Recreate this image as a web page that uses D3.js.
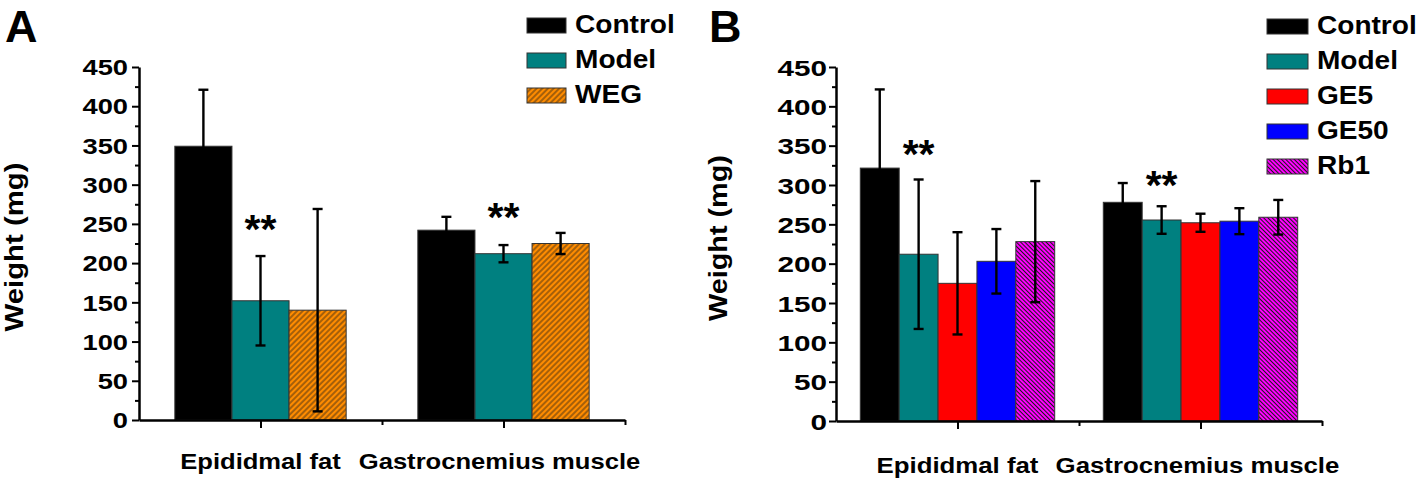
<!DOCTYPE html>
<html><head><meta charset="utf-8">
<script src="https://cdn.jsdelivr.net/npm/d3@7"></script>
<style>
body{margin:0;background:#fff}
text{font-family:"Liberation Sans",Arial,Helvetica,sans-serif;font-weight:bold;fill:#000}
</style>
</head><body>
<svg id="chart" width="1418" height="482"></svg>
<script>
// ---------------- data ----------------
const categories = ["Epididmal fat", "Gastrocnemius muscle"];
const yTicks = [0, 50, 100, 150, 200, 250, 300, 350, 400, 450];
const yMinorTicks = [25, 75, 125, 175, 225, 275, 325, 375, 425];

const seriesA = ["Control", "Model", "WEG"];
const meansA  = [[349, 242], [152, 212], [140, 225]];
const errorsA = [[72, 17], [57, 11], [129, 13.5]];
const starsA  = [{cat: 0, series: 1, y: 226}, {cat: 1, series: 1, y: 241}];

const seriesB = ["Control", "Model", "GE5", "GE50", "Rb1"];
const meansB  = [[321.5, 278], [212, 255.5], [175, 252], [203, 254], [228, 259]];
const errorsB = [[100, 24.5], [95, 17.5], [65, 11.5], [41, 16.5], [77, 22]];
const starsB  = [{cat: 0, series: 1, y: 321.5}, {cat: 1, series: 1, y: 282}];

const fillsA = ["#000000", "#008080", "url(#hatchOrange)"];
const fillsB = ["#000000", "#008080", "#FF0000", "#0000FF", "url(#hatchMagenta)"];

// ---------------- drawing ----------------
const svg = d3.select("#chart");
const defs = svg.append("defs");

function hatch(id, color, period, rot, sw) {
  const p = defs.append("pattern").attr("id", id)
    .attr("patternUnits", "userSpaceOnUse")
    .attr("width", period).attr("height", 10)
    .attr("patternTransform", `rotate(${rot})`);
  p.append("rect").attr("width", period).attr("height", 10).attr("fill", color);
  p.append("line").attr("x1", period / 2).attr("x2", period / 2)
    .attr("y1", 0).attr("y2", 10).attr("stroke", "#1a1a1a").attr("stroke-width", sw);
}
hatch("hatchOrange", "#FF8C00", 4.0, 45, 0.8);
hatch("hatchMagenta", "#FF00FF", 3.0, -45, 1.0);

function stretched(g, str, x, y, size, sx, anchor, rot) {
  return g.append("text").text(str)
    .attr("font-size", size)
    .attr("text-anchor", anchor || "start")
    .attr("transform", `translate(${x},${y}) rotate(${rot || 0}) scale(${sx},1)`);
}

function drawPanel(o) {
  const g = svg.append("g");
  const x = d3.scaleLinear().domain([0.5, 2.5]).range(o.xRange);
  const y = d3.scaleLinear().domain([0, 450]).range(o.yRange);
  const n = o.series.length;
  const w = o.barW;
  const left = (ci, si) => (ci + 1) - n * w / 2 + si * w;

  // bars
  o.series.forEach((s, si) => {
    const gs = g.append("g");
    gs.selectAll("rect").data(o.means[si]).join("rect")
      .attr("x", (d, ci) => x(left(ci, si)))
      .attr("width", x(left(0, si) + w) - x(left(0, si)))
      .attr("y", d => y(d))
      .attr("height", d => y(0) - y(d))
      .attr("fill", o.fills[si])
      .attr("stroke", "#333").attr("stroke-width", 1);
  });

  // error bars
  o.series.forEach((s, si) => {
    o.means[si].forEach((m, ci) => {
      const cx = x(left(ci, si) + w / 2);
      const e = o.errors[si][ci];
      const eb = g.append("g").attr("stroke", "#000").attr("stroke-width", 2.4);
      eb.append("line").attr("x1", cx).attr("x2", cx).attr("y1", y(m + e)).attr("y2", y(m - e));
      [m + e, m - e].forEach(v => {
        eb.append("line").attr("x1", cx - 5).attr("x2", cx + 5).attr("y1", y(v)).attr("y2", y(v));
      });
    });
  });

  // y axis
  const ya = g.append("g").attr("transform", `translate(${o.xRange[0]},0)`)
    .call(d3.axisLeft(y).tickValues(yTicks).tickSize(7).tickSizeOuter(0));
  ya.select(".domain").attr("stroke-width", 2.5);
  ya.selectAll(".tick line").attr("stroke-width", 2);
  ya.selectAll(".tick text")
    .attr("x", null).attr("dy", null)
    .attr("font-size", o.tickFont).attr("font-family", null)
    .attr("transform", `translate(${-o.tickGap},${o.tickBase}) scale(${o.tickSx},1)`);
  g.append("g").attr("transform", `translate(${o.xRange[0]},0)`)
    .call(d3.axisLeft(y).tickValues(yMinorTicks).tickSize(4).tickFormat(""))
    .call(a => a.select(".domain").remove())
    .selectAll(".tick line").attr("stroke-width", 2);

  // x axis
  const xa = g.append("g").attr("transform", `translate(0,${y(0)})`)
    .call(d3.axisBottom(x).tickValues([1, 2]).tickSize(8).tickSizeOuter(0).tickFormat(""));
  xa.select(".domain").attr("stroke-width", 2.5);
  xa.selectAll(".tick line").attr("stroke-width", 2);
  g.append("g").attr("transform", `translate(0,${y(0)})`)
    .call(d3.axisBottom(x).tickValues([1.5, 2.5]).tickSize(5).tickFormat(""))
    .call(a => a.select(".domain").remove())
    .selectAll(".tick line").attr("stroke-width", 2);

  // category labels
  categories.forEach((c, ci) => {
    stretched(g, c, x(ci + 1) + o.catShift[ci], o.catBase, o.catFont, o.catSx, "middle");
  });

  // y label
  stretched(g, "Weight (mg)", o.ylabX, o.ylabY, o.ylabFont, o.ylabSx, "middle", -90);

  // stars
  o.stars.forEach(s => {
    g.append("text").text("**")
      .attr("x", x(left(s.cat, s.series) + w / 2))
      .attr("y", y(s.y))
      .attr("text-anchor", "middle").attr("font-size", 41);
  });

  // panel letter
  g.append("text").text(o.letter).attr("x", o.letterX).attr("y", 42).attr("font-size", 45);

  // legend
  o.series.forEach((s, si) => {
    const ty = o.legY + si * 35;
    g.append("rect").attr("x", o.legX).attr("y", ty).attr("width", o.legW).attr("height", 15)
      .attr("fill", o.fills[si]).attr("stroke", "#333").attr("stroke-width", 1);
    stretched(g, s, o.legX + o.legW + 9, ty + 14.5, o.legFont, o.legSx, "start");
  });
}

drawPanel({
  series: seriesA, means: meansA, errors: errorsA, fills: fillsA, stars: starsA,
  xRange: [139, 625], yRange: [420, 67], barW: 0.235,
  tickFont: 21.5, tickSx: 1.27, tickGap: 11, tickBase: 7.7,
  catFont: 21.5, catSx: 1.19, catBase: 469, catShift: [0, -4],
  ylabX: 23, ylabY: 247, ylabFont: 25.5, ylabSx: 1.15,
  letter: "A", letterX: 5,
  legX: 527, legY: 18, legW: 39, legFont: 26, legSx: 1.08
});

drawPanel({
  series: seriesB, means: meansB, errors: errorsB, fills: fillsB, stars: starsB,
  xRange: [836, 1322], yRange: [421, 67], barW: 0.16,
  tickFont: 22.5, tickSx: 1.32, tickGap: 9, tickBase: 8,
  catFont: 21.5, catSx: 1.2, catBase: 473, catShift: [0, -3],
  ylabX: 727, ylabY: 238, ylabFont: 25.5, ylabSx: 1.13,
  letter: "B", letterX: 709,
  legX: 1267, legY: 19, legW: 41, legFont: 25.5, legSx: 1.1
});
</script>
</body></html>
